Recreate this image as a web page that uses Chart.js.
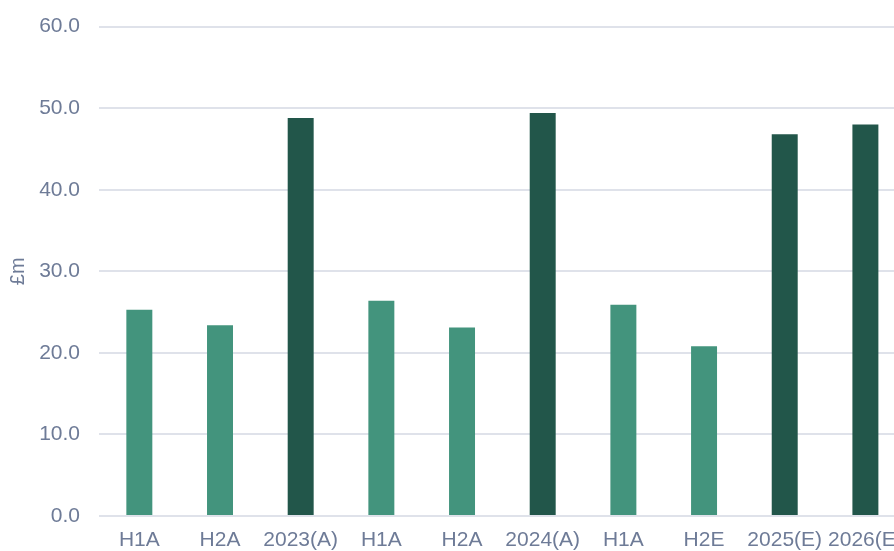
<!DOCTYPE html>
<html>
<head>
<meta charset="utf-8">
<script src="https://cdn.jsdelivr.net/npm/chart.js@4"></script>
<style>
  html, body { margin: 0; padding: 0; background: #ffffff; overflow: hidden; }
  #wrap { width: 915px; height: 556px; margin-top: -5px; }
</style>
</head>
<body>
<div id="wrap"><canvas id="c" width="915" height="556"></canvas></div>
<script>
const categories = ["H1A", "H2A", "2023(A)", "H1A", "H2A", "2024(A)", "H1A", "H2E", "2025(E)", "2026(E)"];
const values = [25.3, 23.4, 48.8, 26.4, 23.1, 49.4, 25.9, 20.8, 46.8, 48.0];
const yTicks = { min: 0, max: 60, step: 10 };
const yTitle = "£m";

const halfColor = "#43947d";
const fullColor = "#22564a";
const textColor = "#6e7b97";
const barColors = categories.map(c => c.indexOf("(") >= 0 ? fullColor : halfColor);

new Chart(document.getElementById("c"), {
  type: "bar",
  data: {
    labels: categories,
    datasets: [{
      data: values,
      backgroundColor: barColors,
      borderWidth: 0,
      categoryPercentage: 1,
      barPercentage: 0.322
    }]
  },
  options: {
    responsive: false,
    animation: false,
    devicePixelRatio: 1,
    layout: { padding: { top: 21, right: 5, left: 0, bottom: 0 } },
    plugins: { legend: { display: false }, tooltip: { enabled: false } },
    scales: {
      x: {
        grid: { display: false, drawTicks: false },
        border: { display: false },
        ticks: {
          color: textColor,
          font: { family: "'Liberation Sans', Arial, sans-serif", size: 21 },
          padding: 12,
          maxRotation: 0,
          autoSkip: false
        },
        afterFit: s => { s.height = 35; }
      },
      y: {
        min: yTicks.min,
        max: yTicks.max,
        grid: { color: "#dfe2ea", lineWidth: 2, drawTicks: false },
        border: { display: false },
        ticks: {
          stepSize: yTicks.step,
          color: textColor,
          font: { family: "'Liberation Sans', Arial, sans-serif", size: 21 },
          padding: 19,
          callback: v => Number(v).toFixed(1)
        },
        title: {
          display: true,
          text: yTitle,
          color: textColor,
          font: { family: "'Liberation Sans', Arial, sans-serif", size: 20 },
          padding: { top: 6, bottom: 0 }
        },
        afterFit: s => { s.width = 99; }
      }
    }
  }
});
</script>
</body>
</html>
